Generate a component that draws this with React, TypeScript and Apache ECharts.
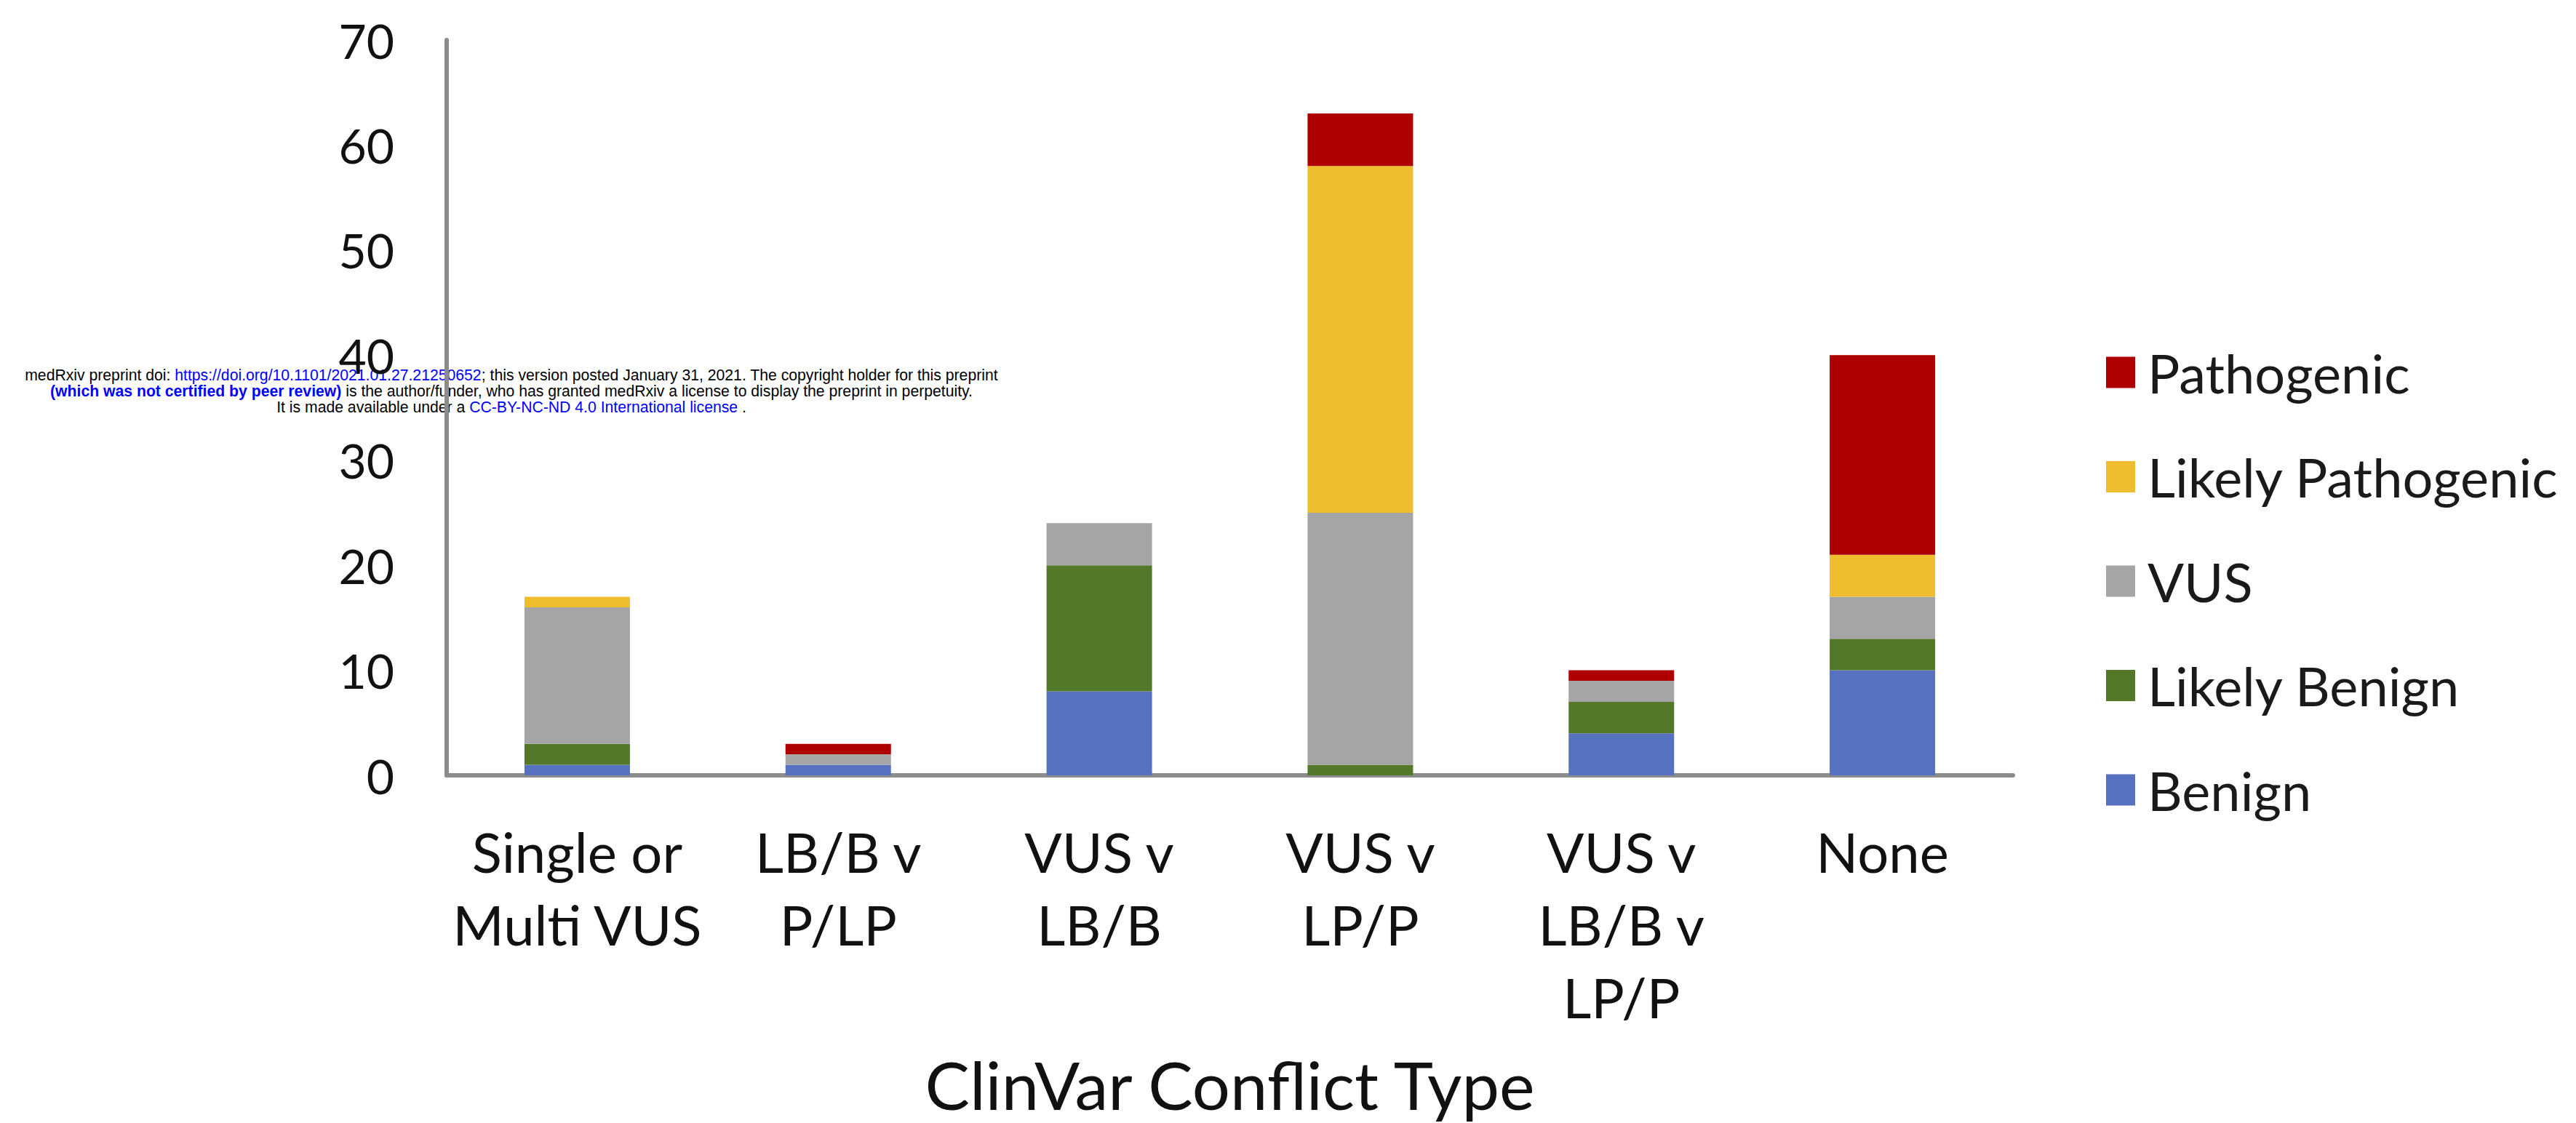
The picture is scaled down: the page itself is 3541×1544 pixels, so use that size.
import React, { useEffect, useRef } from "react";
import * as echarts from "echarts";

const categories = [
  "Single or\nMulti VUS",
  "LB/B v\nP/LP",
  "VUS v\nLB/B",
  "VUS v\nLP/P",
  "VUS v\nLB/B v\nLP/P",
  "None",
];
const benign = [1, 1, 8, 0, 4, 10];
const likelyBenign = [2, 0, 12, 1, 3, 3];
const vus = [13, 1, 4, 24, 2, 4];
const likelyPathogenic = [1, 0, 0, 33, 0, 4];
const pathogenic = [0, 1, 0, 5, 1, 19];

const seriesNames = ["Benign", "Likely Benign", "VUS", "Likely Pathogenic", "Pathogenic"];
const seriesColors = ["#5571C0", "#53782A", "#A5A5A5", "#EFBE2E", "#AE0000"];
const legendOrder = ["Pathogenic", "Likely Pathogenic", "VUS", "Likely Benign", "Benign"];
const yTicks = { min: 0, max: 70, interval: 10 };
const xTitle = "ClinVar Conflict Type";

const FONT = "Lato, 'Open Sans', sans-serif";
const WM_FONT = "'Liberation Sans', Arial, sans-serif";
const WM_SIZE = 21.2;

export default function App() {
  const ref = useRef<HTMLDivElement>(null);
  useEffect(() => {
    if (!ref.current) return;
    const chart = echarts.init(ref.current, undefined, { renderer: "svg" });
    const values = [benign, likelyBenign, vus, likelyPathogenic, pathogenic];
    const blue = "#0000FF";
    const k = { fill: "#000", fontSize: WM_SIZE, fontFamily: WM_FONT };
    const b = { fill: blue, fontSize: WM_SIZE, fontFamily: WM_FONT };
    const bb = { fill: blue, fontSize: WM_SIZE, fontWeight: "bold", fontFamily: WM_FONT };
    const wmLine = (text: string, y: number) => ({
      type: "text",
      x: 703,
      y,
      style: {
        text,
        align: "center",
        verticalAlign: "middle",
        fontFamily: WM_FONT,
        fontSize: WM_SIZE,
        rich: { k, b, bb },
      },
    });
    chart.setOption({
      animation: false,
      backgroundColor: "#ffffff",
      grid: { left: 614, right: 774, top: 55, bottom: 478, containLabel: false },
      legend: {
        orient: "vertical",
        left: 2890,
        top: 470,
        itemWidth: 40,
        itemHeight: 43,
        itemGap: 69.5,
        icon: "rect",
        data: legendOrder,
        textStyle: {
          fontFamily: FONT,
          fontSize: 74,
          color: "#1a1a1a",
          padding: [0, 0, 0, 12],
        },
      },
      xAxis: {
        type: "category",
        data: categories,
        name: xTitle,
        nameLocation: "middle",
        nameGap: 378,
        nameTextStyle: { fontFamily: FONT, fontSize: 92, color: "#111" },
        axisLine: { show: true, lineStyle: { color: "#8C8C8C", width: 6 } },
        axisTick: { show: false },
        axisLabel: {
          fontFamily: FONT,
          fontSize: 76,
          lineHeight: 100,
          color: "#111",
          margin: 54,
          interval: 0,
        },
      },
      yAxis: {
        type: "value",
        min: yTicks.min,
        max: yTicks.max,
        interval: yTicks.interval,
        axisLine: { show: true, lineStyle: { color: "#8C8C8C", width: 6 } },
        axisTick: { show: false },
        splitLine: { show: false },
        axisLabel: { fontFamily: FONT, fontSize: 66, color: "#111", margin: 72 },
      },
      series: seriesNames.map((name, i) => ({
        name,
        type: "bar",
        stack: "total",
        barWidth: 145,
        data: values[i],
        itemStyle: { color: seriesColors[i] },
      })),
      graphic: [
        {
          type: "group",
          z: 100,
          children: [
            wmLine(
              "{k|medRxiv preprint doi: }{b|https://doi.org/10.1101/2021.01.27.21250652}{k|; this version posted January 31, 2021. The copyright holder for this preprint}",
              515
            ),
            wmLine(
              "{bb|(which was not certified by peer review)}{k| is the author/funder, who has granted medRxiv a license to display the preprint in perpetuity.}",
              537
            ),
            wmLine(
              "{k|It is made available under a }{b|CC-BY-NC-ND 4.0 International license}{k| .}",
              559
            ),
          ],
        },
      ],
    });
    return () => chart.dispose();
  }, []);
  return (
    <div
      ref={ref}
      style={{ position: "absolute", left: 0, top: 0, width: 3541, height: 1544, background: "#fff" }}
    />
  );
}
